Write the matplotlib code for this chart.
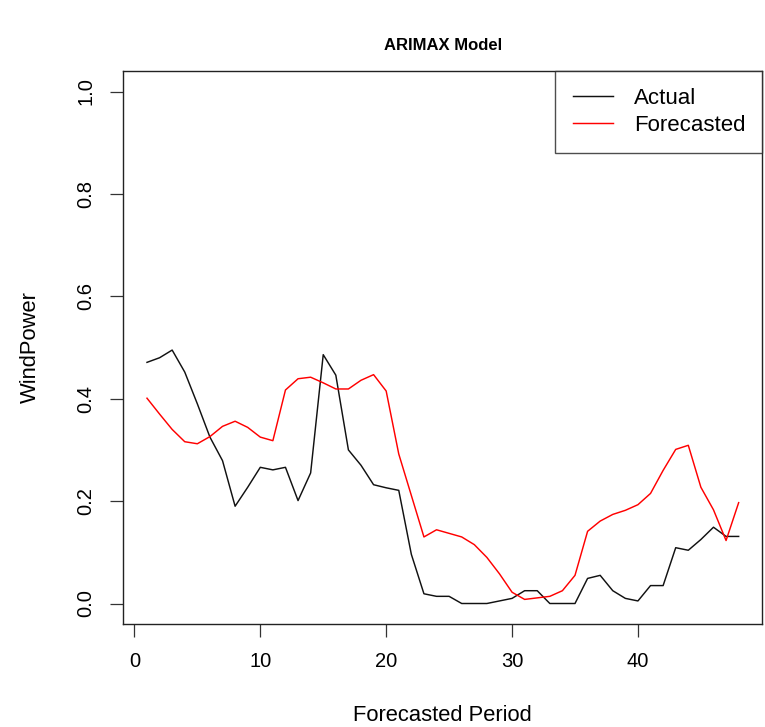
import matplotlib.pyplot as plt
import numpy as np

plt.rcParams['font.family'] = ['Liberation Sans', 'DejaVu Sans']

periods = np.arange(1, 49)
actual = [0.471, 0.480, 0.495, 0.452, 0.390, 0.325, 0.279, 0.190, 0.227, 0.266,
          0.261, 0.266, 0.201, 0.255, 0.486, 0.446, 0.300, 0.270, 0.232, 0.226,
          0.221, 0.096, 0.019, 0.014, 0.014, 0.000, 0.000, 0.000, 0.005, 0.010,
          0.025, 0.025, 0.000, 0.000, 0.000, 0.049, 0.055, 0.025, 0.010, 0.005,
          0.035, 0.035, 0.109, 0.104, 0.125, 0.149, 0.131, 0.131]
forecasted = [0.401, 0.370, 0.340, 0.316, 0.312, 0.326, 0.346, 0.356, 0.344, 0.325,
              0.318, 0.417, 0.439, 0.442, 0.431, 0.419, 0.419, 0.436, 0.447, 0.415,
              0.292, 0.211, 0.130, 0.144, 0.137, 0.130, 0.115, 0.090, 0.058, 0.022,
              0.008, 0.011, 0.014, 0.025, 0.055, 0.141, 0.161, 0.174, 0.182, 0.193,
              0.215, 0.260, 0.301, 0.309, 0.227, 0.183, 0.123, 0.197]
xticks = [0, 10, 20, 30, 40]
yticks = [0.0, 0.2, 0.4, 0.6, 0.8, 1.0]

fig = plt.figure(figsize=(7.65, 7.27), dpi=100)
ax = fig.add_axes([0.1612, 0.1417, 0.9965 - 0.1612, 0.9023 - 0.1417])

ax.plot(periods, actual, color='#111111', lw=1.05, label='Actual')
ax.plot(periods, forecasted, color='red', lw=1.05, label='Forecasted')

# R-style 4% padding around the data range
ax.set_xlim(1 - 0.04 * 47, 48 + 0.04 * 47)
ax.set_ylim(-0.04, 1.04)
ax.set_xticks(xticks)
ax.set_yticks(yticks)
ax.set_xticklabels([str(v) for v in xticks])
ax.set_yticklabels(['%.1f' % v for v in yticks])
ax.tick_params(axis='both', direction='out', length=9.4, width=0.9, labelsize=14.5, color='#333333')
ax.tick_params(axis='x', pad=10.6)
ax.tick_params(axis='y', pad=10.5)
for lab in ax.get_yticklabels():
    lab.set_rotation(90)
    lab.set_va('center')

for sp in ax.spines.values():
    sp.set_linewidth(1.0)
    sp.set_color('#222222')

ax.set_xlabel('Forecasted Period', fontsize=15.8, va='center')
ax.xaxis.set_label_coords(0.5, -0.1646)
ax.set_ylabel('WindPower', fontsize=15.8, va='center', ha='center')
ax.yaxis.set_label_coords(-0.146, 0.5)

fig.text(442.8 / 765, 1 - 45 / 727, 'ARIMAX Model', fontsize=12, fontweight='bold',
         ha='center', va='center')

leg = ax.legend(loc='upper right', fontsize=16, frameon=True, fancybox=False,
                borderaxespad=0, handlelength=1.8, handletextpad=0.95,
                labelspacing=0.25, borderpad=0.77)
leg.get_frame().set_edgecolor('#222222')
leg.get_frame().set_linewidth(1.0)

fig.savefig('out.png', dpi=100)
